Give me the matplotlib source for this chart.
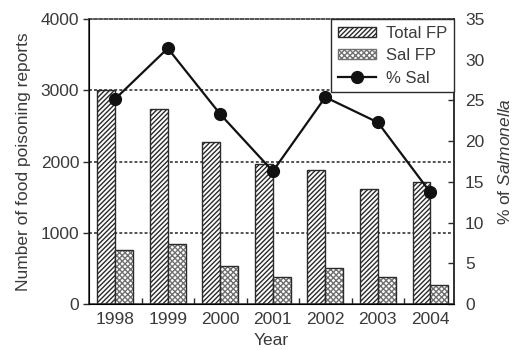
import matplotlib
matplotlib.use("Agg")
import matplotlib.pyplot as plt
import numpy as np
from matplotlib.lines import Line2D
from matplotlib.patches import Patch

plt.rcParams["font.family"] = ["Liberation Sans", "DejaVu Sans"]
plt.rcParams["mathtext.fontset"] = "custom"
plt.rcParams["mathtext.rm"] = "Liberation Sans"
plt.rcParams["mathtext.it"] = "Liberation Sans:italic"
plt.rcParams["hatch.linewidth"] = 1.0

# Food poisoning reports per year
years = ["1998", "1999", "2000", "2001", "2002", "2003", "2004"]
total_fp = [3010, 2730, 2270, 1960, 1880, 1610, 1710]
sal_fp = [760, 840, 540, 380, 500, 375, 260]
pct_sal = [25.2, 31.4, 23.3, 16.3, 25.4, 22.3, 13.7]

ink = "#2a2a2a"
text_col = "#3a3a3a"
fs = 12.5

fig = plt.figure(figsize=(5.13, 3.5), dpi=100)
fig.patch.set_facecolor("white")
ax = fig.add_axes([0.1735, 0.1314, 0.7115, 0.8143])

x = np.arange(len(years))
w = 0.34

ax.bar(x - w / 2, total_fp, width=w, facecolor="white", edgecolor=ink,
       hatch="///////", linewidth=1.0, zorder=2)
ax.bar(x + w / 2, sal_fp, width=w, facecolor="white", edgecolor="#707070",
       hatch="xxxxxx", linewidth=0, zorder=2)
ax.bar(x + w / 2, sal_fp, width=w, facecolor="none", edgecolor=ink,
       linewidth=1.0, zorder=3)

ax.set_xlim(-0.5, 6.45)
ax.set_ylim(0, 4000)
ax.set_yticks([0, 1000, 2000, 3000, 4000])
ax.set_xticks(x)
ax.set_xticklabels(years)
ax.set_xticks(np.arange(0.5, 6.0, 1.0), minor=True)
ax.tick_params(axis="x", which="major", length=0, pad=6, labelsize=fs,
               labelcolor=text_col)
ax.tick_params(axis="x", which="minor", direction="in", length=4,
               width=1.0, color=ink)
ax.tick_params(axis="y", direction="out", length=4, width=1.0, color=ink,
               pad=3, labelsize=fs, labelcolor=text_col)

# dotted reference lines behind the bars
for yv in [1000, 2000, 3000]:
    ax.axhline(yv, color="#444444", linestyle=(0, (1.6, 1.2)), linewidth=1.3,
               zorder=1)

for side in ["left", "bottom", "right"]:
    ax.spines[side].set_color(ink)
    ax.spines[side].set_linewidth(1.1)
ax.spines["top"].set_color("#444444")
ax.spines["top"].set_linewidth(1.3)
ax.spines["top"].set_linestyle((0, (1.6, 1.2)))

ax.set_xlabel("Year", fontsize=fs, color=text_col, labelpad=4)
ax.set_ylabel("Number of food poisoning reports", fontsize=fs,
              color=text_col, labelpad=7)

ax2 = ax.twinx()
ax2.plot(x, pct_sal, color="#111111", linewidth=1.6, marker="o",
         markersize=8.5, markerfacecolor="#111111", markeredgecolor="#111111",
         zorder=5)
ax2.set_ylim(0, 35)
ax2.set_yticks(range(0, 40, 5))
ax2.tick_params(axis="y", direction="in", length=4, width=1.0, color=ink,
                pad=8, labelsize=fs, labelcolor=text_col)
ax2.spines["right"].set_color(ink)
ax2.spines["right"].set_linewidth(1.1)
ax2.spines["top"].set_visible(False)
ax2.set_ylabel("% of $\\it{Salmonella}$", fontsize=fs, color=text_col,
               labelpad=9)

handles = [
    Patch(facecolor="white", edgecolor=ink, hatch="///////", linewidth=1.0),
    Patch(facecolor="white", edgecolor="#707070", hatch="xxxxxx",
          linewidth=1.0),
    Line2D([], [], color="#111111", linewidth=1.6, marker="o", markersize=8.5),
]
leg = ax2.legend(handles, ["Total FP", "Sal FP", "% Sal"], loc="upper right",
                 borderaxespad=0, fancybox=False, framealpha=1,
                 edgecolor=ink, fontsize=12, handlelength=2.3,
                 handleheight=0.55, labelspacing=0.45, handletextpad=0.6,
                 borderpad=0.4)
leg.get_frame().set_linewidth(1.0)
for t in leg.get_texts():
    t.set_color(text_col)

fig.savefig("out.png", dpi=100)
